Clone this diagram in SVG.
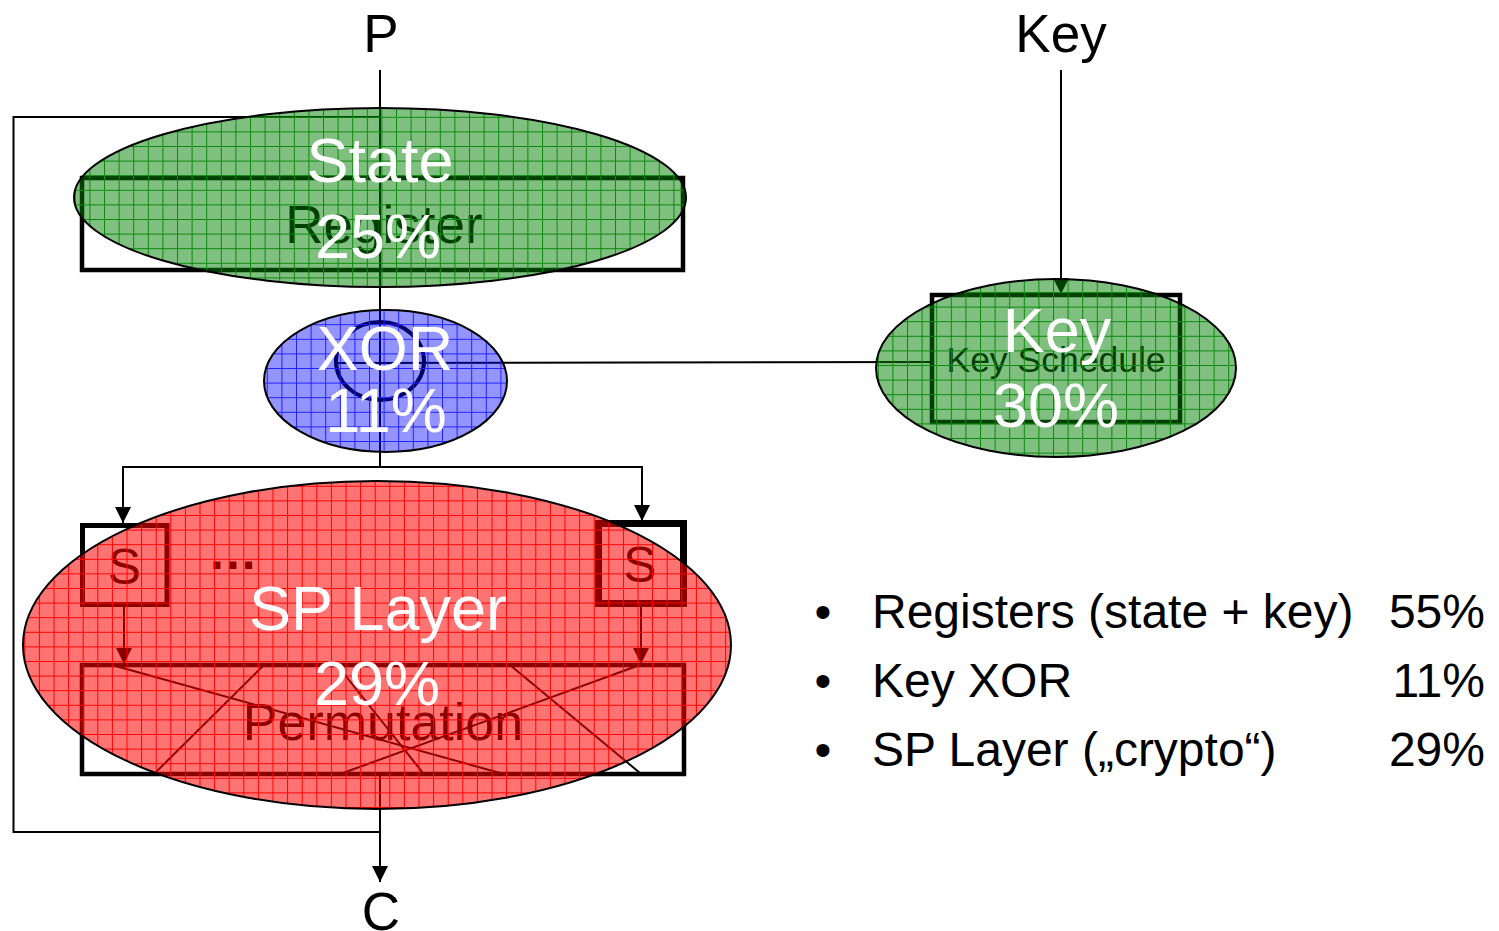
<svg xmlns="http://www.w3.org/2000/svg" width="1499" height="931" viewBox="0 0 1499 931">
  <defs>
    <marker id="arrow" markerUnits="userSpaceOnUse" markerWidth="16" markerHeight="16" refX="16" refY="8" orient="auto">
      <path d="M0,0 L16,8 L0,16 z" fill="#000"/>
    </marker>
    <pattern id="grid-green" patternUnits="userSpaceOnUse" width="14.6" height="14.6" x="1.8" y="0">
      <path d="M0,0.5 H14.6 M0.5,0 V14.6" stroke="#0a8a0a" stroke-width="1" fill="none"/>
    </pattern>
    <pattern id="grid-blue" patternUnits="userSpaceOnUse" width="14.6" height="14.6" x="4" y="3">
      <path d="M0,0.5 H14.6 M0.5,0 V14.6" stroke="#2020ff" stroke-width="1" fill="none"/>
    </pattern>
    <pattern id="grid-red" patternUnits="userSpaceOnUse" width="14.6" height="14.6" x="9.7" y="4">
      <path d="M0,0.5 H14.6 M0.5,0 V14.6" stroke="#ff0000" stroke-width="1" fill="none"/>
    </pattern>
  </defs>
  <style>
    text { font-family: "Liberation Sans", Arial, sans-serif; }
    .label { font-size: 53px; fill: #000; text-anchor: middle; }
    .wire { fill: none; stroke: #000; stroke-width: 2; }
    .box { fill: none; stroke: #000; stroke-width: 4.5; }
    .thin { fill: none; stroke: #000; stroke-width: 2; }
    .inner { fill: #000; text-anchor: middle; }
    .share { fill: #fff; text-anchor: middle; font-size: 63px; }
    .list { font-size: 48px; fill: #000; }
  </style>

  <!-- inputs / outputs -->
  <g id="input-p"><text class="label" x="381" y="52">P</text></g>
  <g id="input-key"><text class="label" x="1061" y="52">Key</text></g>
  <g id="output-c"><text class="label" x="381" y="930">C</text></g>

  <!-- connectors -->
  <g id="connectors">
    <line class="wire" x1="380" y1="70" x2="380" y2="467"/>
    <polyline class="wire" points="380,117 13.5,117 13.5,832 380,832"/>
    <line class="wire" x1="380" y1="775" x2="380" y2="882" marker-end="url(#arrow)"/>
    <polyline class="wire" points="123,522 123,467 642,467 642,521" marker-end="url(#arrow)"/>
    <line class="wire" x1="123" y1="467" x2="123" y2="523" marker-end="url(#arrow)"/>
    <line class="wire" x1="1061" y1="70" x2="1061" y2="294" marker-end="url(#arrow)"/>
    <line class="wire" x1="335" y1="363" x2="932" y2="362"/>
    <line class="wire" x1="124" y1="607" x2="124" y2="664" marker-end="url(#arrow)"/>
    <line class="wire" x1="641" y1="606" x2="641" y2="664" marker-end="url(#arrow)"/>
  </g>

  <!-- datapath blocks -->
  <g id="state-register">
    <rect class="box" x="82" y="178" width="601" height="92"/>
    <text class="inner" x="384" y="243" font-size="53">Register</text>
  </g>
  <g id="xor">
    <ellipse cx="380" cy="361" rx="44" ry="39" fill="none" stroke="#000" stroke-width="4"/>
  </g>
  <g id="key-schedule">
    <rect class="box" x="932" y="295" width="248" height="127"/>
    <text class="inner" x="1056" y="372" font-size="35.5">Key Schedule</text>
  </g>
  <g id="sbox-left">
    <rect x="82.5" y="525.5" width="84.5" height="79" fill="none" stroke="#000" stroke-width="5"/>
    <text class="inner" x="124.5" y="584" font-size="50">S</text>
  </g>
  <g id="sbox-dots">
    <text x="210" y="569" font-size="50" font-weight="bold" letter-spacing="2" fill="#000">...</text>
  </g>
  <g id="sbox-right">
    <rect x="598.5" y="523.5" width="85" height="80" fill="none" stroke="#000" stroke-width="7"/>
    <text class="inner" x="640" y="582" font-size="50">S</text>
  </g>
  <g id="permutation">
    <rect class="box" x="82" y="665" width="602" height="109"/>
    <line class="thin" x1="112" y1="665" x2="500" y2="773"/>
    <line class="thin" x1="263" y1="666" x2="155" y2="773"/>
    <line class="thin" x1="337" y1="665" x2="423" y2="773"/>
    <line class="thin" x1="510" y1="665" x2="640" y2="773"/>
    <line class="thin" x1="637" y1="666" x2="343" y2="773"/>
    <text class="inner" x="383" y="740" font-size="52">Permutation</text>
  </g>

  <!-- area share overlays -->
  <g id="share-state">
    <ellipse cx="380" cy="197.5" rx="306" ry="89.5" fill="#008000" fill-opacity="0.5"/>
    <ellipse cx="380" cy="197.5" rx="306" ry="89.5" fill="url(#grid-green)" stroke="#000" stroke-width="2"/>
    <text class="share" x="380" y="182" font-size="62">State</text>
    <text class="share" x="378" y="258" font-size="62">25%</text>
  </g>
  <g id="share-xor">
    <ellipse cx="385.5" cy="381" rx="121.5" ry="71" fill="#0000ff" fill-opacity="0.42"/>
    <ellipse cx="385.5" cy="381" rx="121.5" ry="71" fill="url(#grid-blue)" stroke="#000" stroke-width="2"/>
    <text class="share" x="385" y="370" font-size="52">XOR</text>
    <text class="share" x="386" y="432" font-size="51">11%</text>
  </g>
  <g id="share-key">
    <ellipse cx="1056" cy="368" rx="180" ry="89" fill="#008000" fill-opacity="0.5"/>
    <ellipse cx="1056" cy="368" rx="180" ry="89" fill="url(#grid-green)" stroke="#000" stroke-width="2"/>
    <text class="share" x="1057" y="352">Key</text>
    <text class="share" x="1056" y="427">30%</text>
  </g>
  <g id="share-sp">
    <ellipse cx="377" cy="645" rx="354" ry="164" fill="#ff0000" fill-opacity="0.55"/>
    <ellipse cx="377" cy="645" rx="354" ry="164" fill="url(#grid-red)" stroke="#000" stroke-width="2"/>
    <text class="share" x="378" y="630">SP Layer</text>
    <text class="share" x="377" y="705">29%</text>
  </g>

  <!-- summary -->
  <g id="summary" class="list">
    <text x="823" y="628" text-anchor="middle">•</text>
    <text x="872" y="628">Registers (state + key)</text>
    <text x="1485" y="628" text-anchor="end">55%</text>
    <text x="823" y="697" text-anchor="middle">•</text>
    <text x="872" y="697">Key XOR</text>
    <text x="1485" y="697" text-anchor="end">11%</text>
    <text x="823" y="766" text-anchor="middle">•</text>
    <text x="872" y="766">SP Layer („crypto“)</text>
    <text x="1485" y="766" text-anchor="end">29%</text>
  </g>
</svg>
